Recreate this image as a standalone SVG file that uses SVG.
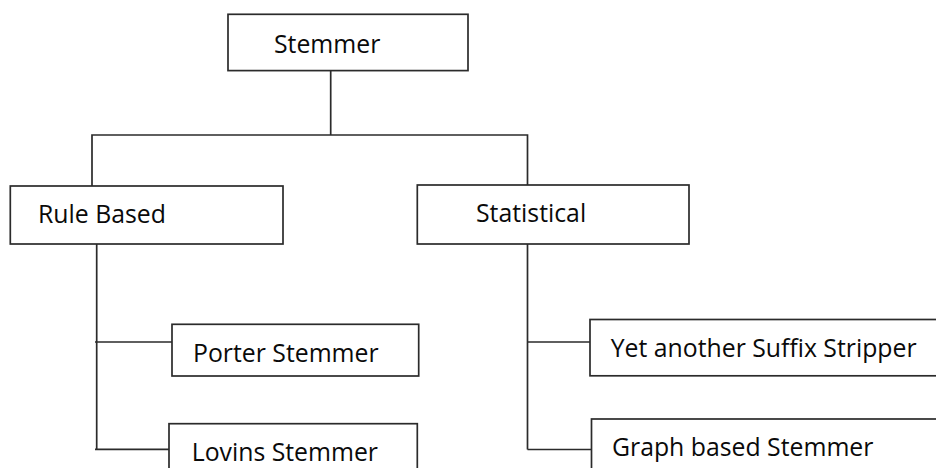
<svg xmlns="http://www.w3.org/2000/svg" width="936" height="468" viewBox="0 0 936 468">
<style>
.box{fill:#fff;stroke:#2b2b2b;stroke-width:1.7}
.conn{fill:none;stroke:#2b2b2b;stroke-width:1.7}
text{font-family:"Open Sans","Noto Sans","Liberation Sans",sans-serif;font-size:24.8px;fill:#0a0a0a}
</style>
<rect width="936" height="468" fill="#fff"/>
<g id="connectors">
<path class="conn" d="M330.7,70.5 V135 M92,186 V135 H527.5 V185"/>
<path class="conn" d="M96.7,244 V449.3 M95,342 H172 M95,449.3 H169"/>
<path class="conn" d="M527.5,244 V449.5 M527.5,342 H590 M527.5,449.5 H591"/>
</g>
<g id="stemmer"><rect class="box" x="228" y="14.3" width="240" height="56.3"/><text x="274" y="52.7">Stemmer</text></g>
<g id="rule-based"><rect class="box" x="10.3" y="186" width="272.7" height="58"/><text x="38" y="222.7">Rule Based</text></g>
<g id="statistical"><rect class="box" x="417.3" y="185" width="271.7" height="59"/><text x="476" y="221.7">Statistical</text></g>
<g id="porter"><rect class="box" x="172" y="324.3" width="246.7" height="51.7"/><text x="193" y="361.7">Porter Stemmer</text></g>
<g id="lovins"><rect class="box" x="169" y="423.7" width="248.3" height="60"/><text x="191.7" y="460.7">Lovins Stemmer</text></g>
<g id="yass"><rect class="box" x="590" y="319.5" width="360" height="56.3"/><text x="610.7" y="357">Yet another Suffix Stripper</text></g>
<g id="graph"><rect class="box" x="591.5" y="419" width="360" height="60"/><text x="612" y="456">Graph based Stemmer</text></g>
</svg>
